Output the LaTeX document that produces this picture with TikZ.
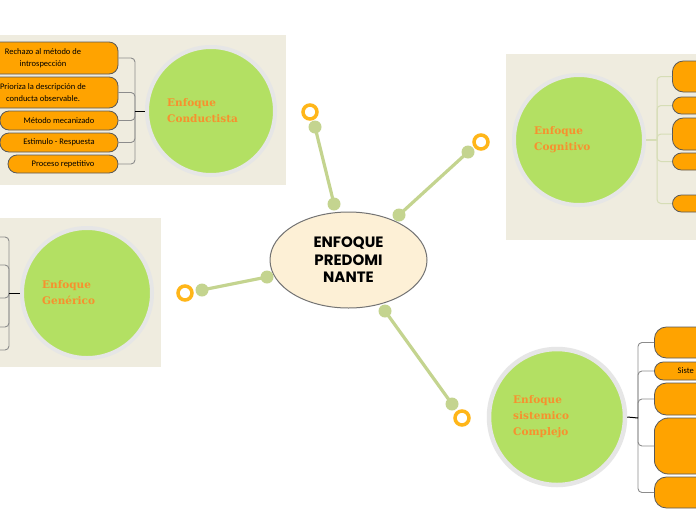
\documentclass[tikz,border=0pt]{standalone}
\usepackage{fontspec}
\setmainfont{Carlito}
\newfontfamily\circfont{DejaVu Serif}
\newfontfamily\headfont{Poppins}
\usetikzlibrary{shapes.geometric}
\definecolor{panel}{HTML}{EFECDF}
\definecolor{circgreen}{HTML}{B3E063}
\definecolor{ringgrey}{HTML}{E6E6E6}
\definecolor{boxorange}{HTML}{FFA300}
\definecolor{labelorange}{HTML}{F7902E}
\definecolor{linkgreen}{HTML}{C4D48F}
\definecolor{ringorange}{HTML}{FFB619}
\definecolor{creamfill}{HTML}{FDF0D6}
\definecolor{bracketgrey}{HTML}{8C8C8C}
\definecolor{bracketlight}{HTML}{D6DDB6}
\begin{document}
\begin{tikzpicture}[x=1pt,y=-1pt,
 topic/.style={circle, fill=circgreen, draw=ringgrey, line width=4pt, inner sep=0pt},
 topiclabel/.style={anchor=west, align=left, text=labelorange, font=\circfont\bfseries\fontsize{10.5}{16}\selectfont, inner sep=0pt},
 leaf/.style={draw=black!65, line width=0.8pt, fill=boxorange, rounded corners=9pt, inner sep=0pt, align=center, font=\fontsize{8.5}{11.5}\selectfont},
 bracket/.style={draw=bracketgrey, line width=0.9pt, rounded corners=4pt},
 lightbracket/.style={draw=bracketlight, line width=1pt, rounded corners=4pt},
 stem/.style={draw=black, line width=1pt},
 link/.style={draw=linkgreen, line width=3.2pt},
 knob/.style={fill=linkgreen},
 endring/.style={circle, draw=ringorange, fill=white, line width=3.5pt, minimum size=14pt, inner sep=0pt}
]
\useasboundingbox (0,0) rectangle (696,520);
\fill[white] (0,0) rectangle (696,520);

% panels
\fill[panel] (0,35) rectangle (286,185);
\fill[panel] (0,218) rectangle (161,367);
\fill[panel] (506,54) rectangle (696,240);

% ---------- Enfoque Conductista ----------
\node[topic, minimum size=128pt] (cond) at (211,111) {};
\node[topiclabel] (condlbl) at (167,111) {Enfoque\\Conductista};
\node[leaf, minimum width=150pt, minimum height=32pt] (c1) at (43,58) {Rechazo al método de\\introspección};
\node[leaf, minimum width=150pt, minimum height=31pt] (c2) at (43,92.5) {Prioriza la descripción de\\conducta observable.};
\node[leaf, minimum width=118pt, minimum height=19pt] (c3) at (59,120.5) {Método mecanizado};
\node[leaf, minimum width=118pt, minimum height=19pt] (c4) at (59,142.5) {Estimulo - Respuesta};
\node[leaf, minimum width=110pt, minimum height=18pt] (c5) at (63,164) {Proceso repetitivo};
\coordinate (cj) at (135,111);
\foreach \b in {c1,c2,c3,c4,c5} \draw[bracket] (\b.east) -| (cj);
\draw[stem] (cj) -- (cond.west);

% ---------- Enfoque Cognitivo ----------
\node[topic, minimum size=130pt] (cogn) at (579,140) {};
\node[topiclabel] (cognlbl) at (534,140) {Enfoque\\Cognitivo};
\node[leaf, anchor=west, minimum width=150pt, minimum height=31pt, rounded corners=11pt] (k1) at (672,76.5) {};
\node[leaf, anchor=west, minimum width=150pt, minimum height=17pt] (k2) at (672,105.5) {};
\node[leaf, anchor=west, minimum width=150pt, minimum height=32pt, rounded corners=11pt] (k3) at (672,134) {};
\node[leaf, anchor=west, minimum width=150pt, minimum height=17pt] (k4) at (672,161.5) {};
\node[leaf, anchor=west, minimum width=150pt, minimum height=17pt] (k5) at (672,203.5) {};
\coordinate (kj) at (657,140);
\foreach \b in {k1,k2,k3,k4,k5} \draw[lightbracket] (\b.west) -| (kj);
\draw[draw=bracketlight, line width=1.2pt] (kj) -- (cogn.east);

% ---------- Enfoque Genérico ----------
\node[topic, minimum size=130pt] (gene) at (87,293) {};
\node[topiclabel] (genelbl) at (42,293) {Enfoque\\Genérico};
\coordinate (g1) at (-6,237);
\coordinate (g2) at (-6,265);
\coordinate (g3) at (-6,298);
\coordinate (g4) at (-6,327);
\coordinate (g5) at (-6,350);
\coordinate (gj) at (9,293);
\foreach \b in {g1,g2,g3,g4,g5} \draw[bracket] (\b) -| (gj);
\draw[stem] (gj) -- (gene.west);

% ---------- Enfoque sistemico Complejo ----------
\node[topic, minimum size=136pt, line width=4.5pt] (sist) at (557,417) {};
\node[topiclabel] (sistlbl) at (513,417) {Enfoque\\sistemico\\Complejo};
\node[leaf, anchor=west, minimum width=150pt, minimum height=31pt, rounded corners=12pt] (s1) at (654,342.5) {};
\node[leaf, anchor=west, minimum width=150pt, minimum height=18pt] (s2) at (654,371) {};
\node[anchor=west, inner sep=0pt, font=\fontsize{8.5}{11}\selectfont] (s2txt) at (677.5,371) {Siste};
\node[leaf, anchor=west, minimum width=150pt, minimum height=32pt, rounded corners=12pt] (s3) at (654,399) {};
\node[leaf, anchor=west, minimum width=150pt, minimum height=56pt, rounded corners=14pt] (s4) at (654,446) {};
\node[leaf, anchor=west, minimum width=150pt, minimum height=31pt, rounded corners=12pt] (s5) at (654,492.5) {};
\coordinate (sj) at (638,418);
\foreach \b in {s1,s2,s3,s4,s5} \draw[bracket] (\b.west) -| (sj);
\draw[stem] (sj) -- (sist.east);

% ---------- central topic ----------
\node[ellipse, minimum width=157pt, minimum height=96pt, fill=creamfill, draw=black!55, line width=1pt, align=center, inner sep=0pt,
      font=\headfont\bfseries\fontsize{15}{17.5}\selectfont] (main) at (348.5,260) {ENFOQUE\\PREDOMI\\NANTE};

% ---------- links ----------
\coordinate (a1) at (334,204); \coordinate (b1) at (315,127);
\coordinate (a2) at (399,215); \coordinate (b2) at (468,152);
\coordinate (a3) at (267,277); \coordinate (b3) at (202,290);
\coordinate (a4) at (385,311); \coordinate (b4) at (452,404);
\foreach \i in {1,2,3,4} {
  \draw[link] (a\i) -- (b\i);
  \fill[knob] (a\i) circle (6.5pt);
  \fill[knob] (b\i) circle (6.5pt);
}
\node[endring] (r1) at (310,112) {};
\node[endring] (r2) at (481,142) {};
\node[endring] (r3) at (185,293) {};
\node[endring] (r4) at (462,418) {};
\end{tikzpicture}
\end{document}
